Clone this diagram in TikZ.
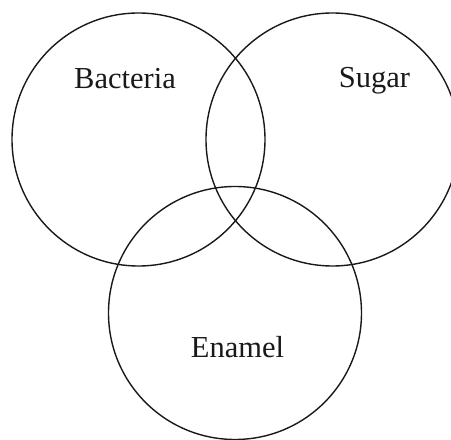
\documentclass[tikz,border=0pt]{standalone}
\usepackage{fontspec}
\setmainfont{Liberation Serif}
\usetikzlibrary{positioning}

\begin{document}
\begin{tikzpicture}[
    x=1pt, y=1pt,
    set/.style={draw=black!90, circle, line width=1.4pt, minimum size=253pt, inner sep=0pt},
    lbl/.style={anchor=base, text=black!90, font=\fontsize{30.5}{36}\selectfont}
]
    \useasboundingbox (0,0) rectangle (451,440);
    \clip (0,0) rectangle (451,440);

    \node[set] (bacteria) at (138.5,300.5) {};
    \node[set] (sugar) at (332.5,300.5) {};
    \node[set] (enamel) at (235,127) {};

    \node[lbl] (bacterialbl) at (125,351.7) {Bacteria};
    \node[lbl] (sugarlbl) at (374.5,352) {Sugar};
    \node[lbl] (enamellbl) at (237.5,82.7) {Enamel};
\end{tikzpicture}
\end{document}
